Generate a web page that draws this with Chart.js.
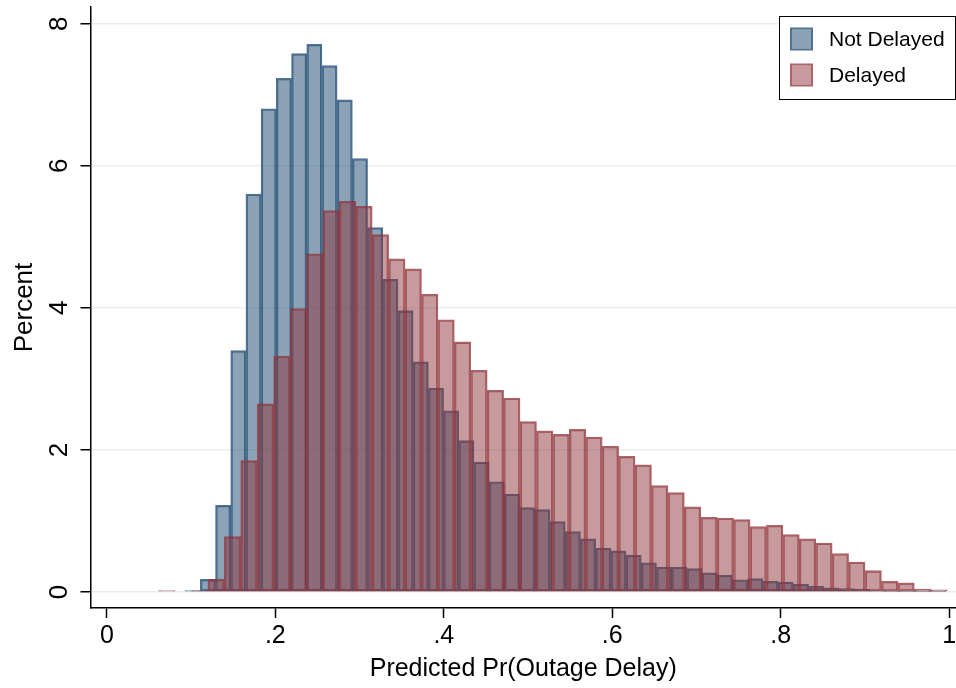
<!DOCTYPE html>
<html>
<head>
<meta charset="utf-8">
<title>Predicted Pr(Outage Delay)</title>
<script src="https://cdn.jsdelivr.net/npm/chart.js@4.4.1/dist/chart.umd.min.js"></script>
<style>
  html, body { margin: 0; padding: 0; background: #fff; }
  canvas { display: block; }
</style>
</head>
<body>
<canvas id="outageHist" width="956" height="688"></canvas>
<script>
// histogram bins: start of first bin, bin width, percent in each bin
const notDelayedStart = 0.0929;
const notDelayedWidth = 0.01805;
const notDelayedPct = [
  0.02, 0.18, 1.22, 3.40, 5.60, 6.80, 7.23, 7.58, 7.71, 7.41,
  6.93, 6.10, 5.13, 4.40, 3.96, 3.24, 2.87, 2.55, 2.13, 1.83,
  1.55, 1.38, 1.19, 1.16, 0.99, 0.85, 0.75, 0.62, 0.58, 0.52,
  0.41, 0.35, 0.35, 0.33, 0.27, 0.24, 0.17, 0.19, 0.15, 0.14,
  0.11, 0.08, 0.06, 0.05, 0.04, 0.02, 0.01, 0.01, 0.01, 0.01,
];

const delayedStart = 0.0615;
const delayedWidth = 0.0195;
const delayedPct = [
  0.02, 0, 0.02, 0.18, 0.78, 1.85, 2.65, 3.32, 3.99, 4.76,
  5.37, 5.50, 5.43, 5.03, 4.69, 4.55, 4.19, 3.83, 3.52, 3.12,
  2.84, 2.73, 2.40, 2.27, 2.22, 2.29, 2.18, 2.05, 1.91, 1.79,
  1.50, 1.40, 1.20, 1.05, 1.04, 1.02, 0.92, 0.94, 0.81, 0.75,
  0.69, 0.54, 0.42, 0.30, 0.15, 0.13, 0.04, 0.03,
];

const xTickValues = [0, 0.2, 0.4, 0.6, 0.8, 1];
const xTickLabels = ["0", ".2", ".4", ".6", ".8", "1"];
const yTickValues = [0, 2, 4, 6, 8];
const yTickLabels = ["0", "2", "4", "6", "8"];

const FONT = "'Liberation Sans', Arial, sans-serif";

function binPoints(start, width, pct) {
  return pct.map((y, i) => ({ x: start + (i + 0.5) * width, y: y }));
}

// Stata-like boxed legend in the top right corner
const boxedLegend = {
  id: "boxedLegend",
  afterDraw(chart, args, opts) {
    const ctx = chart.ctx;
    ctx.save();
    ctx.fillStyle = "#fff";
    ctx.fillRect(opts.left, opts.top, opts.width, opts.height);
    ctx.strokeStyle = "#000";
    ctx.lineWidth = 1;
    ctx.strokeRect(opts.left + 0.5, opts.top + 0.5, opts.width, opts.height);
    ctx.font = opts.fontSize + "px " + FONT;
    ctx.textBaseline = "middle";
    ctx.textAlign = "left";
    chart.data.datasets.forEach(function (ds, i) {
      const cy = opts.top + opts.firstRow + i * opts.rowGap;
      const sx = opts.left + opts.swatchX;
      const s = opts.swatch;
      ctx.fillStyle = ds.borderColor;
      ctx.fillRect(sx, cy - s / 2, s, s);
      ctx.fillStyle = "#fff";
      ctx.fillRect(sx + 2, cy - s / 2 + 2, s - 4, s - 4);
      ctx.fillStyle = ds.backgroundColor;
      ctx.fillRect(sx + 2, cy - s / 2 + 2, s - 4, s - 4);
      ctx.fillStyle = "#000";
      ctx.fillText(ds.label, opts.left + opts.textX, cy + 1);
    });
    ctx.restore();
  },
};

const ctx = document.getElementById("outageHist").getContext("2d");
const outageChart = new Chart(ctx, {
  type: "bar",
  data: {
    datasets: [
      {
        label: "Not Delayed",
        data: binPoints(notDelayedStart, notDelayedWidth, notDelayedPct),
        xAxisID: "x",
        order: 1,
        backgroundColor: "rgba(26, 71, 111, 0.5)",
        borderColor: "rgba(26, 71, 111, 0.76)",
        borderWidth: 1.6,
        borderSkipped: false,
        barPercentage: 1,
        categoryPercentage: 1,
        grouped: false,
      },
      {
        label: "Delayed",
        data: binPoints(delayedStart, delayedWidth, delayedPct),
        xAxisID: "x2",
        order: 0,
        backgroundColor: "rgba(144, 53, 59, 0.5)",
        borderColor: "rgba(144, 53, 59, 0.76)",
        borderWidth: 1.6,
        borderSkipped: false,
        barPercentage: 1,
        categoryPercentage: 1,
        grouped: false,
      },
    ],
  },
  options: {
    responsive: false,
    animation: false,
    devicePixelRatio: 1,
    layout: { padding: { top: 7, right: 0, left: 0, bottom: 0 } },
    plugins: {
      legend: { display: false },
      tooltip: { enabled: false },
      boxedLegend: {
        left: 779,
        top: 16,
        width: 176,
        height: 83,
        firstRow: 23,
        rowGap: 36,
        swatchX: 11,
        swatch: 23,
        textX: 50,
        fontSize: 21,
      },
    },
    scales: {
      x: {
        type: "linear",
        position: "bottom",
        offset: false,
        min: -0.0194,
        max: 1.008,
        afterBuildTicks: function (scale) {
          scale.ticks = xTickValues.map((v) => ({ value: v }));
        },
        afterFit: function (scale) {
          scale.height = 80;
          scale.paddingLeft = 0;
          scale.paddingRight = 0;
        },
        ticks: {
          callback: function (value, index) {
            return xTickLabels[index];
          },
          autoSkip: false,
          maxRotation: 0,
          padding: 3,
          color: "#000",
          font: { family: FONT, size: 25 },
        },
        grid: {
          offset: false,
          drawOnChartArea: false,
          tickLength: 10,
          tickColor: "#000",
          tickWidth: 1.5,
        },
        border: { color: "#000", width: 1.5 },
        title: {
          display: true,
          text: "Predicted Pr(Outage Delay)",
          color: "#000",
          font: { family: FONT, size: 25 },
          padding: { top: 0, bottom: 4 },
        },
      },
      x2: {
        type: "linear",
        display: false,
        offset: false,
        grid: { offset: false },
        min: -0.0194,
        max: 1.008,
      },
      y: {
        type: "linear",
        min: -0.225,
        max: 8.235,
        afterBuildTicks: function (scale) {
          scale.ticks = yTickValues.map((v) => ({ value: v }));
        },
        afterFit: function (scale) {
          scale.width = 90.5;
          scale.paddingTop = 0;
          scale.paddingBottom = 0;
        },
        ticks: {
          callback: function (value, index) {
            return yTickLabels[index];
          },
          minRotation: 90,
          maxRotation: 90,
          crossAlign: "center",
          padding: 13,
          color: "#000",
          font: { family: FONT, size: 26 },
        },
        grid: {
          color: "#e8eff2",
          lineWidth: 1.5,
          tickLength: 10,
          tickColor: "#000",
          tickWidth: 1.5,
        },
        border: { color: "#000", width: 1.5 },
        title: {
          display: true,
          text: "Percent",
          color: "#000",
          font: { family: FONT, size: 26 },
          padding: { top: 9, bottom: 0 },
        },
      },
    },
  },
  plugins: [boxedLegend],
});
</script>
</body>
</html>
